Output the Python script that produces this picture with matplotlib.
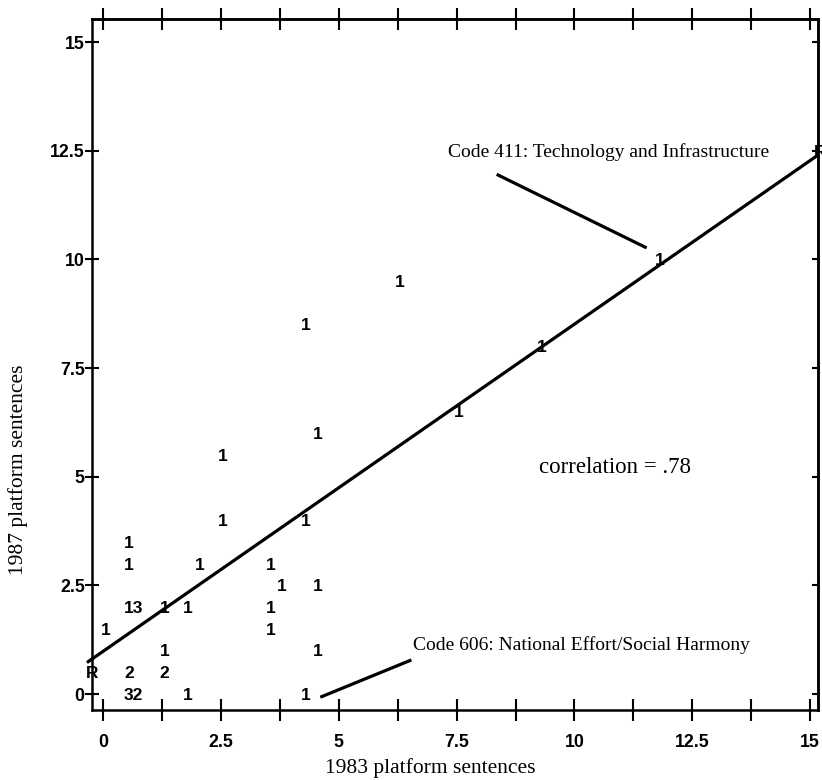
import numpy as np
import matplotlib
matplotlib.use("Agg")
import matplotlib.pyplot as plt

# platform sentences, 1983 vs 1987 (labels = number of codes at that spot)
x83 = [0.5, 0.5, 2.0, 3.5, 3.75, 4.5, 0.5, 1.25, 1.75, 3.5, 0.0, 3.5, 1.25, 4.5,
       0.5, 1.25, 0.5, 1.75, 4.25, 2.5, 4.25, 2.5, 4.5, 7.5, 9.25, 4.25, 6.25, 11.75]
y87 = [3.5, 3.0, 3.0, 3.0, 2.5, 2.5, 2.0, 2.0, 2.0, 2.0, 1.5, 1.5, 1.0, 1.0,
       0.5, 0.5, 0.0, 0.0, 0.0, 4.0, 4.0, 5.5, 6.0, 6.5, 8.0, 8.5, 9.5, 10.0]
counts = ["1", "1", "1", "1", "1", "1", "13", "1", "1", "1", "1", "1", "1", "1",
          "2", "2", "32", "1", "1", "1", "1", "1", "1", "1", "1", "1", "1", "1"]

# regression line
reg_intercept = 0.98
reg_slope = 0.753
reg_x = [-0.34, 15.17]
r_x = [-0.24, 15.22]
r_y = [0.48, 12.47]

xticks = [0, 2.5, 5, 7.5, 10, 12.5, 15]
xminor = [1.25, 3.75, 6.25, 8.75, 11.25, 13.75]
yticks = [0, 2.5, 5, 7.5, 10, 12.5, 15]
ticklabels = ["0", "2.5", "5", "7.5", "10", "12.5", "15"]

sans = "Liberation Sans"
serif = "Liberation Serif"

fig = plt.figure(figsize=(8.22, 7.8), dpi=100)
ax = fig.add_axes([92 / 822, 1 - 710 / 780, 726 / 822, 691 / 780])
ax.set_xlim(-0.233, 15.165)
ax.set_ylim(-0.368, 15.53)

for s in ax.spines.values():
    s.set_linewidth(1.8)

for xi, yi, c in zip(x83, y87, counts):
    ax.annotate(c, (xi, yi), xytext=(-1.8, -1), textcoords="offset points",
                ha="left", va="center", fontsize=12.5, family=sans, weight="bold")

rx = np.array(reg_x)
ax.plot(rx, reg_intercept + reg_slope * rx, color="black", lw=2.3,
        clip_on=False, solid_capstyle="butt")
for xi, yi in zip(r_x, r_y):
    ax.text(xi, yi, "R", ha="center", va="center", fontsize=12.5, family=sans,
            weight="bold")

# callouts
ax.text(7.32, 12.47, "Code 411: Technology and Infrastructure", ha="left",
        va="center", fontsize=14, family=serif)
ax.plot([8.38, 11.50], [11.94, 10.28], color="black", lw=2.3)
ax.text(6.58, 1.13, "Code 606: National Effort/Social Harmony", ha="left",
        va="center", fontsize=14, family=serif)
ax.plot([4.64, 6.51], [-0.06, 0.77], color="black", lw=2.3)
ax.text(10.86, 5.22, "correlation = .78", ha="center", va="center",
        fontsize=16.5, family=serif)

ax.set_xticks(xticks)
ax.set_xticklabels(ticklabels, family=sans, fontsize=12.8, weight="bold")
ax.set_xticks(xminor, minor=True)
ax.set_yticks(yticks)
ax.set_yticklabels(ticklabels, family=sans, fontsize=12.8, weight="bold")
ax.tick_params(axis="x", which="both", direction="inout", length=16, width=1.5, pad=9)
ax.tick_params(axis="y", which="both", direction="inout", length=9.5, width=1.5, pad=0.5)

top = ax.secondary_xaxis("top")
top.set_xticks(xticks)
top.set_xticks(xminor, minor=True)
top.tick_params(which="both", direction="inout", length=16, width=1.5, labeltop=False)
top.spines["top"].set_linewidth(1.8)

right = ax.secondary_yaxis("right")
right.set_yticks(yticks)
right.tick_params(direction="in", length=4.5, width=1.5, labelright=False)
right.spines["right"].set_linewidth(1.8)

fig.text(430 / 822, 1 - 768 / 780, "1983 platform sentences", ha="center",
         va="center", fontsize=15.5, family=serif)
fig.text(18 / 822, 1 - 470 / 780, "1987 platform sentences", ha="center",
         va="center", rotation=90, fontsize=15.5, family=serif)

fig.savefig("out.png", dpi=100)
